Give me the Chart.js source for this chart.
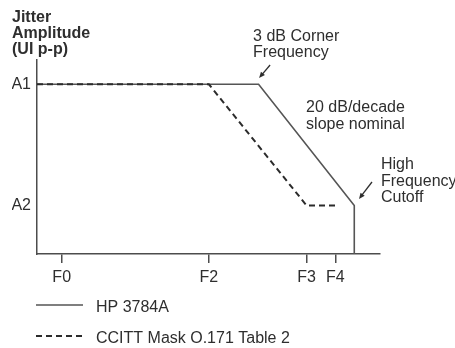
<!DOCTYPE html>
<html>
<head>
<meta charset="utf-8">
<script src="https://cdn.jsdelivr.net/npm/chart.js@4/dist/chart.umd.min.js"></script>
<style>
  html, body { margin: 0; padding: 0; background: #fff; }
  canvas { display: block; }
</style>
</head>
<body>
<canvas id="jitter" width="455" height="348"></canvas>
<script>
// Frequency markers along the horizontal axis (relative position, 0-100)
const freqLabels = ['F0', 'F2', 'F3', 'F4'];
const freqValues = [7.2, 50.1, 78.6, 87.0];

// Amplitude levels on the vertical axis
const ampLabels = ['A2', 'A1'];
const ampValues = [2, 7];

// HP 3784A jitter tolerance profile
const hpX = [0, 64.6, 92.5, 92.5];
const hpY = [7, 7, 2, 0];

// CCITT O.171 Table 2 mask
const ccittX = [0, 50.1, 78.6, 87.0];
const ccittY = [7, 7, 2, 2];

const seriesNames = ['HP 3784A', 'CCITT Mask O.171 Table 2'];
const axisTitle = ['Jitter', 'Amplitude', '(UI p-p)'];

const FONT = '"Liberation Sans", Arial, Helvetica, sans-serif';
const TEXT = '#2e2e2e';
const AXIS = '#4d4d4d';

const toPoints = (xs, ys) => xs.map((v, i) => ({ x: v, y: ys[i] }));

// Callouts anchored to points of the HP 3784A profile
const notes = [
  { lines: ['3 dB Corner', 'Frequency'], at: 1, dx: -5.5, dy: -47.25, lh: 16,
    arrow: [11.5, -19.25, 0.5, -6.25] },
  { lines: ['20 dB/decade', 'slope nominal'], at: 1, dx: 47.5, dy: 23.75, lh: 17 },
  { lines: ['High', 'Frequency', 'Cutoff'], at: 2, dx: 26.7, dy: -40.5, lh: 16.5,
    arrow: [17.7, -23.5, 4.7, -6.5] }
];

function drawArrow(ctx, x1, y1, x2, y2) {
  const ang = Math.atan2(y2 - y1, x2 - x1);
  const len = 6, half = 2.6;
  ctx.beginPath();
  ctx.moveTo(x1, y1);
  ctx.lineTo(x2 - Math.cos(ang) * len * 0.8, y2 - Math.sin(ang) * len * 0.8);
  ctx.stroke();
  ctx.beginPath();
  ctx.moveTo(x2, y2);
  ctx.lineTo(x2 - Math.cos(ang) * len - Math.sin(ang) * half,
             y2 - Math.sin(ang) * len + Math.cos(ang) * half);
  ctx.lineTo(x2 - Math.cos(ang) * len + Math.sin(ang) * half,
             y2 - Math.sin(ang) * len - Math.cos(ang) * half);
  ctx.closePath();
  ctx.fill();
}

const calloutsAndKey = {
  id: 'calloutsAndKey',
  afterDatasetsDraw(chart) {
    const { ctx, chartArea, scales: { x, y } } = chart;
    ctx.save();
    ctx.fillStyle = TEXT;
    ctx.strokeStyle = TEXT;
    ctx.lineWidth = 1.3;
    ctx.font = '16px ' + FONT;
    ctx.textAlign = 'left';
    ctx.textBaseline = 'middle';

    notes.forEach(n => {
      const px = x.getPixelForValue(hpX[n.at]);
      const py = y.getPixelForValue(hpY[n.at]);
      n.lines.forEach((t, i) => ctx.fillText(t, px + n.dx, py + n.dy + i * n.lh));
      if (n.arrow) {
        drawArrow(ctx, px + n.arrow[0], py + n.arrow[1], px + n.arrow[2], py + n.arrow[3]);
      }
    });

    // Key below the frequency axis
    const left = chartArea.left - 1;
    const rows = [51, 82];
    chart.data.datasets.forEach((ds, i) => {
      const ly = chartArea.bottom + rows[i];
      ctx.save();
      ctx.strokeStyle = ds.borderColor;
      ctx.lineWidth = ds.borderWidth;
      ctx.setLineDash(ds.borderDash || []);
      ctx.beginPath();
      ctx.moveTo(left, ly);
      ctx.lineTo(left + 47, ly);
      ctx.stroke();
      ctx.restore();
      ctx.fillText(ds.label, left + 60, ly + 3);
    });
    ctx.restore();
  }
};

new Chart(document.getElementById('jitter'), {
  type: 'scatter',
  data: {
    datasets: [
      {
        label: seriesNames[0],
        data: toPoints(hpX, hpY),
        showLine: true,
        borderColor: '#555555',
        borderWidth: 1.6,
        pointRadius: 0,
        tension: 0,
        order: 2
      },
      {
        label: seriesNames[1],
        data: toPoints(ccittX, ccittY),
        showLine: true,
        borderColor: '#2b2b2b',
        borderWidth: 2,
        borderDash: [6, 4],
        pointRadius: 0,
        tension: 0,
        order: 1
      }
    ]
  },
  options: {
    responsive: false,
    devicePixelRatio: 1,
    animation: false,
    events: [],
    layout: { padding: { left: 12, right: 75, top: 0, bottom: 54 } },
    plugins: {
      legend: { display: false },
      tooltip: { enabled: false },
      title: {
        display: true,
        text: axisTitle,
        align: 'start',
        color: TEXT,
        font: { family: FONT, size: 16, weight: 'bold', lineHeight: 1.0 },
        padding: { top: 10, bottom: 2 }
      }
    },
    scales: {
      x: {
        type: 'linear',
        min: 0,
        max: 100,
        afterFit: s => { s.height = 40; },
        afterBuildTicks: s => { s.ticks = freqValues.map(v => ({ value: v })); },
        ticks: {
          callback: v => freqLabels[freqValues.indexOf(v)],
          color: TEXT,
          font: { family: FONT, size: 16 },
          padding: 5,
          maxRotation: 0,
          autoSkip: false
        },
        grid: {
          display: true,
          drawOnChartArea: false,
          drawTicks: true,
          tickLength: 9,
          color: AXIS,
          lineWidth: 1.5
        },
        border: { display: true, color: AXIS, width: 1.5 }
      },
      y: {
        type: 'linear',
        min: 0,
        max: 8,
        afterFit: s => { s.width = 25; },
        afterBuildTicks: s => { s.ticks = ampValues.map(v => ({ value: v })); },
        ticks: {
          callback: v => ampLabels[ampValues.indexOf(v)],
          color: TEXT,
          font: { family: FONT, size: 16 },
          padding: 6,
          autoSkip: false
        },
        grid: { display: false, drawTicks: false },
        border: { display: true, color: AXIS, width: 1.5 }
      }
    }
  },
  plugins: [calloutsAndKey]
});
</script>
</body>
</html>
